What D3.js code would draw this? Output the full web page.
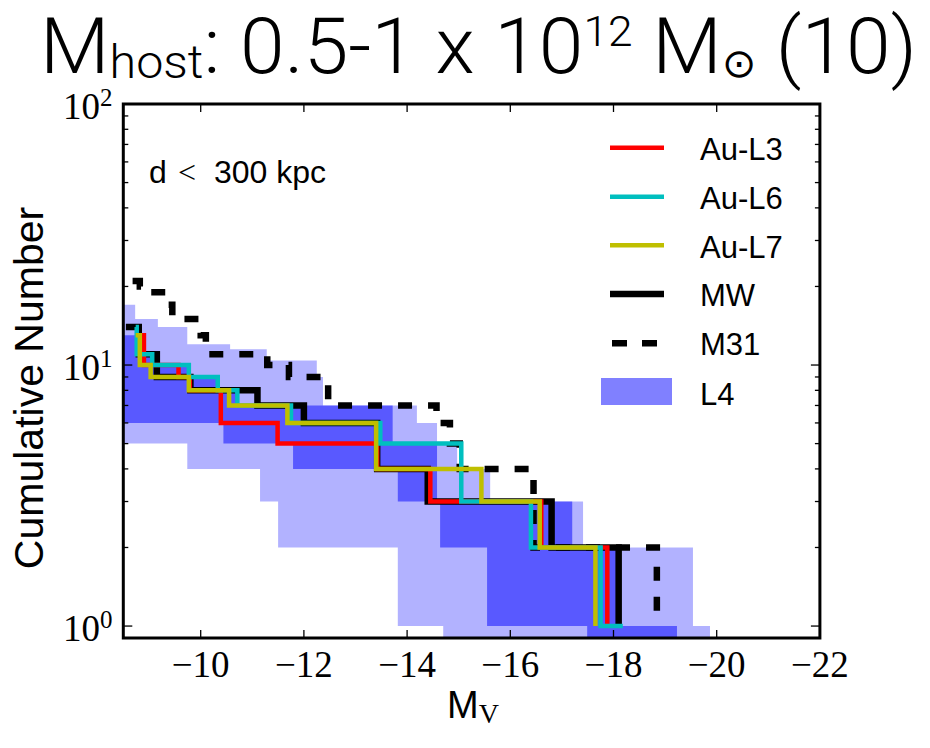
<!DOCTYPE html>
<html>
<head>
<meta charset="utf-8">
<script src="https://cdn.jsdelivr.net/npm/d3@7"></script>
<style>
  body { margin: 0; background: #fff; }
  svg { display: block; }
</style>
</head>
<body>
<script>
// ---- Cumulative satellite counts: step vertices (magnitude, count), faint -> bright ----
const au3Mag = [-8.85, -8.90, -9.57, -9.79, -10.39, -11.49, -13.42, -14.45, -16.60, -17.88];
const au3N   = [13, 10, 9, 8, 6, 5, 4, 3, 2, 1];

const au6Mag = [-8.74, -8.76, -9.06, -9.77, -10.33, -10.71, -11.75, -13.48, -15.05, -16.40, -17.75, -18.18];
const au6N   = [14, 11, 10, 9, 8, 7, 6, 5, 3, 2, 1, 1];

const au7Mag = [-8.74, -8.82, -9.03, -9.77, -10.55, -11.68, -13.40, -15.44, -16.57, -17.65];
const au7N   = [13, 10, 9, 8, 7, 6, 4, 3, 2, 1];

const mwMag = [-8.55, -8.80, -9.15, -9.80, -11.10, -12.00, -13.42, -14.40, -16.80, -18.10];
const mwN   = [14, 11, 9, 8, 7, 6, 4, 3, 2, 1];

const m31Mag = [-8.68, -8.82, -8.98, -9.33, -9.45, -10.00, -10.10, -11.29, -11.71, -12.47, -14.57, -14.83, -15.02, -16.45, -18.84];
const m31N   = [21, 20, 19, 17, 15, 13, 11, 10, 9, 7, 6, 5, 4, 2, 1];

// ---- L4 scatter: outer (light) and inner (dark) bands, step edges in magnitude ----
const outerEdges = [-8.5, -8.73, -9.17, -9.74, -10.57, -11.15, -11.28, -11.50, -12.25, -12.37, -13.82, -14.19, -14.58, -14.70, -14.97, -15.61, -17.41, -19.54, -19.87];
const outerLo    = [5, 5, 5, 4, 4, 3, 3, 2, 2, 2, 1, 1, 1, 0.8, 0.8, 0.8, 0.8, 0.8];
const outerHi    = [17, 15, 14, 12, 11.5, 11.5, 10.4, 10.4, 9, 7, 7, 6, 5, 5, 4, 3, 2, 1];

const innerEdges = [-8.5, -8.83, -9.06, -9.79, -10.32, -10.44, -10.71, -11.79, -13.72, -13.82, -14.58, -14.64, -15.55, -17.20, -17.49, -18.13, -19.23];
const innerLo    = [6, 6, 6, 6, 6, 5, 5, 4, 4, 3, 3, 2, 1, 1, 0.8, 0.8];
const innerHi    = [13, 11, 10, 9, 8, 8, 7, 7, 5, 5, 3, 3, 3, 2, 2, 1];

const xTicks = [-10, -12, -14, -16, -18, -20, -22];
const yMajor = [1, 10, 100];
const yMinor = [2, 3, 4, 5, 6, 7, 8, 9, 20, 30, 40, 50, 60, 70, 80, 90];
const yLabelExp = ["0", "1", "2"];

const legendItems = [
  { label: "Au-L3", color: "#ff0000", kind: "line", width: 4.5 },
  { label: "Au-L6", color: "#00bfbf", kind: "line", width: 4.5 },
  { label: "Au-L7", color: "#bfbf00", kind: "line", width: 4.5 },
  { label: "MW",    color: "#000000", kind: "line", width: 6.5 },
  { label: "M31",   color: "#000000", kind: "dash", width: 6.5 },
  { label: "L4",    color: "#8080ff", kind: "patch" }
];

// ---- layout ----
const W = 930, H = 748;
const plot = { left: 123.3, right: 819.9, top: 104, bottom: 638 };
const sans = "'Liberation Sans', Arial, Helvetica, sans-serif";
const light = "Roboto, 'Liberation Sans', Arial, sans-serif";
const serif = "'Liberation Serif', 'Times New Roman', serif";

const svg = d3.select("body").append("svg").attr("width", W).attr("height", H);

const x = d3.scaleLinear().domain([-8.5, -22]).range([plot.left, plot.right]);
const y = d3.scaleLog().domain([0.9, 100]).range([plot.bottom, plot.top]);

svg.append("clipPath").attr("id", "plotclip")
  .append("rect")
  .attr("x", plot.left).attr("y", plot.top)
  .attr("width", plot.right - plot.left).attr("height", plot.bottom - plot.top);

const g = svg.append("g").attr("clip-path", "url(#plotclip)");

function bandPoints(edges, lo, hi) {
  const pts = lo.map((v, i) => [edges[i], v, hi[i]]);
  pts.push([edges[edges.length - 1], lo[lo.length - 1], hi[hi.length - 1]]);
  return pts;
}
const area = d3.area()
  .x(d => x(d[0])).y0(d => y(d[1])).y1(d => y(d[2]))
  .curve(d3.curveStepAfter);

g.append("path").datum(bandPoints(outerEdges, outerLo, outerHi))
  .attr("d", area).attr("fill", "#0000ff").attr("fill-opacity", 0.3);
g.append("path").datum(bandPoints(innerEdges, innerLo, innerHi))
  .attr("d", area).attr("fill", "#0000ff").attr("fill-opacity", 0.5);

const line = d3.line().x(d => x(d[0])).y(d => y(d[1])).curve(d3.curveStepAfter);
const series = [
  { mag: mwMag,  n: mwN,  color: "#000", width: 6.5 },
  { mag: m31Mag, n: m31N, color: "#000", width: 6.5, dash: "14,16" },
  { mag: au3Mag, n: au3N, color: "#ff0000", width: 4.5 },
  { mag: au6Mag, n: au6N, color: "#00bfbf", width: 4.5 },
  { mag: au7Mag, n: au7N, color: "#bfbf00", width: 4.5 }
];
series.forEach(s => {
  g.append("path").datum(s.mag.map((m, i) => [m, s.n[i]]))
    .attr("d", line)
    .attr("fill", "none")
    .attr("stroke", s.color)
    .attr("stroke-width", s.width)
    .attr("stroke-linejoin", "miter")
    .attr("stroke-dasharray", s.dash || null);
});

// ---- ticks (inward on all four sides) ----
const tk = svg.append("g").attr("stroke", "#000").attr("stroke-width", 1.3);
xTicks.forEach(t => {
  const px = x(t);
  tk.append("line").attr("x1", px).attr("x2", px).attr("y1", plot.bottom).attr("y2", plot.bottom - 8);
  tk.append("line").attr("x1", px).attr("x2", px).attr("y1", plot.top).attr("y2", plot.top + 8);
});
yMajor.forEach(t => {
  const py = y(t);
  tk.append("line").attr("x1", plot.left).attr("x2", plot.left + 9).attr("y1", py).attr("y2", py);
  tk.append("line").attr("x1", plot.right).attr("x2", plot.right - 9).attr("y1", py).attr("y2", py);
});
yMinor.forEach(t => {
  const py = y(t);
  tk.append("line").attr("x1", plot.left).attr("x2", plot.left + 5).attr("y1", py).attr("y2", py);
  tk.append("line").attr("x1", plot.right).attr("x2", plot.right - 5).attr("y1", py).attr("y2", py);
});

// frame
svg.append("rect")
  .attr("x", plot.left).attr("y", plot.top)
  .attr("width", plot.right - plot.left).attr("height", plot.bottom - plot.top)
  .attr("fill", "none").attr("stroke", "#000").attr("stroke-width", 3);

// x tick labels
xTicks.forEach(t => {
  svg.append("text")
    .attr("x", x(t)).attr("y", 677)
    .attr("text-anchor", "middle")
    .attr("font-family", serif).attr("font-size", 37)
    .text("\u2212" + Math.abs(t));
});

// y tick labels: 10^k
yMajor.forEach((t, i) => {
  const py = y(t);
  const tx = svg.append("text")
    .attr("x", 63).attr("y", py + 14.5)
    .attr("font-family", serif).attr("font-size", 37);
  tx.append("tspan").text("10");
  tx.append("tspan").attr("font-size", 25).attr("dy", -13).text(yLabelExp[i]);
});

// axis titles
svg.append("text")
  .attr("transform", "translate(43,388) rotate(-90)")
  .attr("text-anchor", "middle")
  .attr("font-family", sans).attr("font-size", 41)
  .text("Cumulative Number");

const xl = svg.append("text").attr("x", 447).attr("y", 718)
  .attr("font-family", sans).attr("font-size", 38);
xl.append("tspan").text("M");
xl.append("tspan").attr("font-family", serif).attr("font-size", 28).attr("dy", 5).text("V");

// annotation
const ann = svg.append("text").attr("y", 183).attr("font-family", sans).attr("font-size", 32);
ann.append("tspan").attr("x", 149).text("d");
ann.append("tspan").attr("x", 178).attr("font-family", serif).attr("font-size", 32).text("<");
ann.append("tspan").attr("x", 214).text("300 kpc");

// title
const title = svg.append("text").attr("x", 0).attr("y", 75)
  .attr("font-family", light).attr("font-weight", 300).attr("font-size", 78);
title.append("tspan").text("M");
title.append("tspan").attr("font-size", 47).attr("dy", 5).text("host");
title.append("tspan").attr("dy", -5).text(": 0.5-1 x 10");
title.append("tspan").attr("font-size", 43).attr("dy", -27).text("12");
title.append("tspan").attr("dy", 27).text(" M");
title.append("tspan").attr("font-size", 40).attr("dy", 4).attr("font-family", "'DejaVu Sans', sans-serif").attr("font-weight", 400).text("\u2299");
title.append("tspan").attr("dy", -4).text(" (10)");
{
  const bb = title.node().getBBox();
  const sx = (917 - 40) / bb.width;
  title.attr("transform", `translate(40,-2) scale(${sx},1) translate(${-bb.x},0)`);
}

// legend
const lg = svg.append("g");
const legY = [147.7, 196.7, 245.3, 294, 343.3, 391.5];
const legBase = [160, 209.3, 257.7, 306, 355, 405];
legendItems.forEach((d, i) => {
  if (d.kind === "line") {
    lg.append("line").attr("x1", 610).attr("x2", 664).attr("y1", legY[i]).attr("y2", legY[i])
      .attr("stroke", d.color).attr("stroke-width", d.width);
  } else if (d.kind === "dash") {
    lg.append("line").attr("x1", 612).attr("x2", 658).attr("y1", legY[i]).attr("y2", legY[i])
      .attr("stroke", d.color).attr("stroke-width", d.width).attr("stroke-dasharray", "15,15");
  } else {
    lg.append("rect").attr("x", 601).attr("y", 378).attr("width", 71).attr("height", 27)
      .attr("fill", d.color);
  }
  lg.append("text").attr("x", 700).attr("y", legBase[i])
    .attr("font-family", sans).attr("font-size", 31).text(d.label);
});
</script>
</body>
</html>
